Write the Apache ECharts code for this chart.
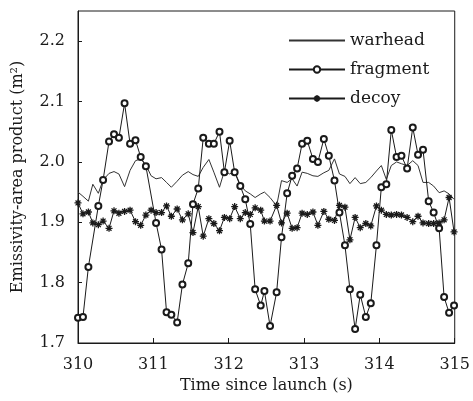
<!DOCTYPE html>
<html>
<head>
<meta charset="utf-8">
<script src="https://cdn.jsdelivr.net/npm/echarts@6/dist/echarts.min.js"></script>
<style>
  html, body { margin: 0; padding: 0; background: #fff; }
  #chart { width: 473px; height: 401px; }
</style>
</head>
<body>
<div id="chart"></div>
<script>
// sample times (s)
const times = [
  310.000, 310.066, 310.138, 310.197, 310.270, 310.333, 310.412, 310.478, 310.543, 310.618,
  310.691, 310.763, 310.832, 310.901, 310.970, 311.036, 311.109, 311.175, 311.239, 311.316,
  311.386, 311.463, 311.526, 311.596, 311.662, 311.737, 311.803, 311.878, 311.943, 312.013,
  312.079, 312.154, 312.220, 312.286, 312.351, 312.425, 312.474, 312.549, 312.636, 312.701,
  312.776, 312.842, 312.908, 312.974, 313.043, 313.118, 313.184, 313.263, 313.329, 313.404,
  313.470, 313.543, 313.609, 313.678, 313.746, 313.820, 313.886, 313.961, 314.026, 314.092,
  314.158, 314.228, 314.293, 314.368, 314.443, 314.513, 314.579, 314.654, 314.720, 314.793,
  314.859, 314.925, 314.991
];

const warhead = [
  1.950, 1.943, 1.935, 1.963, 1.948, 1.970, 1.981, 1.984, 1.980, 1.959,
  1.986, 2.002, 2.005, 1.995, 1.977, 1.972, 1.974, 1.966, 1.958, 1.968,
  1.978, 1.984, 1.979, 1.976, 1.991, 2.004, 1.983, 1.958, 1.985, 1.980,
  1.984, 1.962, 1.952, 1.947, 1.941, 1.947, 1.950, 1.941, 1.927, 1.969,
  1.966, 1.972, 1.960, 1.983, 1.981, 1.977, 1.976, 1.982, 1.986, 2.005,
  1.980, 1.976, 1.964, 1.974, 1.964, 1.966, 1.974, 1.985, 1.994, 1.971,
  1.994, 2.000, 1.997, 1.994, 2.002, 1.994, 1.966, 1.966, 1.960, 1.949,
  1.952, 1.947, 1.938
];

const fragment = [
  1.742, 1.743, 1.826, null, 1.927, 1.970, 2.034, 2.046, 2.040, 2.097,
  2.030, 2.036, 2.008, 1.993, null, 1.899, 1.855, 1.751, 1.747, 1.734,
  1.797, 1.832, 1.930, 1.956, 2.040, 2.030, 2.030, 2.050, 1.983, 2.035,
  1.983, 1.960, 1.938, 1.897, 1.789, 1.762, 1.786, 1.728, 1.784, 1.875,
  1.948, 1.977, 1.989, 2.030, 2.035, 2.005, 2.000, 2.038, 2.010, 1.969,
  1.916, 1.862, 1.789, 1.723, 1.780, 1.743, 1.766, 1.862, 1.958, 1.963,
  2.053, 2.008, 2.010, 1.989, 2.057, 2.012, 2.020, 1.935, 1.916, 1.890,
  1.776, 1.750, 1.762
];

const decoy = [
  1.932, 1.914, 1.917, 1.899, 1.896, 1.902, 1.890, 1.919, 1.915, 1.918,
  1.920, 1.901, 1.895, 1.912, 1.920, 1.916, 1.916, 1.927, 1.910, 1.922,
  1.904, 1.914, 1.883, 1.926, 1.877, 1.906, 1.898, 1.886, 1.908, 1.906,
  1.926, 1.906, 1.916, 1.913, 1.924, 1.920, 1.902, 1.902, 1.928, 1.899,
  1.915, 1.890, 1.891, 1.915, 1.913, 1.917, 1.895, 1.918, 1.905, 1.903,
  1.928, 1.925, 1.871, 1.908, 1.891, 1.898, 1.894, 1.927, 1.920, 1.913,
  1.912, 1.913, 1.912, 1.908, 1.901, 1.910, 1.899, 1.898, 1.898, 1.899,
  1.904, 1.941, 1.884
];

const FONT = 'DejaVu Serif';
const INK = '#1a1a1a';
const asterisk = 'path://M0 5L10 5M5 0L5 10M1.5 1.5L8.5 8.5M8.5 1.5L1.5 8.5';

const pair = (vals) => times.map((t, i) => [t, vals[i]]);

const chart = echarts.init(document.getElementById('chart'), null, { renderer: 'canvas' });

chart.setOption({
  animation: false,
  backgroundColor: '#fff',
  textStyle: { fontFamily: FONT, color: INK },
  grid: {
    left: 78, right: 15, top: 11, bottom: 58,
    show: true, borderColor: INK, borderWidth: 1, backgroundColor: 'transparent'
  },
  legend: {
    orient: 'vertical',
    left: 288,
    top: 32,
    padding: 0,
    itemWidth: 56,
    itemHeight: 8,
    itemGap: 12,
    textStyle: { fontFamily: FONT, fontSize: 17, color: INK },
    data: [
      { name: 'warhead', itemStyle: { color: 'transparent', borderColor: 'transparent' } },
      { name: 'fragment' },
      { name: 'decoy' }
    ]
  },
  xAxis: {
    type: 'value',
    min: 310, max: 315, interval: 1,
    name: 'Time since launch (s)',
    nameLocation: 'middle',
    nameGap: 33,
    nameTextStyle: { fontFamily: FONT, fontSize: 16, color: INK },
    axisLine: { lineStyle: { color: INK, width: 1 } },
    axisTick: { inside: true, length: 5, lineStyle: { color: INK } },
    axisLabel: { fontFamily: FONT, fontSize: 16, color: INK, margin: 14 },
    splitLine: { show: false }
  },
  yAxis: {
    type: 'value',
    min: 1.7, max: 2.25, interval: 0.1,
    name: 'Emissivity-area product (m²)',
    nameLocation: 'middle',
    nameGap: 52,
    nameTextStyle: { fontFamily: FONT, fontSize: 16, color: INK },
    axisLine: { lineStyle: { color: INK, width: 1 } },
    axisTick: { inside: true, length: 4, lineStyle: { color: INK } },
    axisLabel: {
      fontFamily: FONT, fontSize: 16, color: INK, margin: 13,
      showMaxLabel: false,
      formatter: (v) => v.toFixed(1)
    },
    splitLine: { show: false }
  },
  series: [
    {
      name: 'warhead',
      type: 'line',
      symbol: 'none',
      data: pair(warhead),
      lineStyle: { color: '#333', width: 1 },
      itemStyle: { color: '#333' }
    },
    {
      name: 'fragment',
      type: 'line',
      symbol: 'emptyCircle',
      symbolSize: 6,
      connectNulls: true,
      data: pair(fragment),
      lineStyle: { color: INK, width: 1 },
      itemStyle: { color: INK, borderColor: INK, borderWidth: 1 }
    },
    {
      name: 'decoy',
      type: 'line',
      symbol: asterisk,
      symbolSize: 7,
      data: pair(decoy),
      lineStyle: { color: INK, width: 1 },
      itemStyle: { color: INK, borderColor: INK, borderWidth: 1.3 }
    }
  ]
});
</script>
</body>
</html>
